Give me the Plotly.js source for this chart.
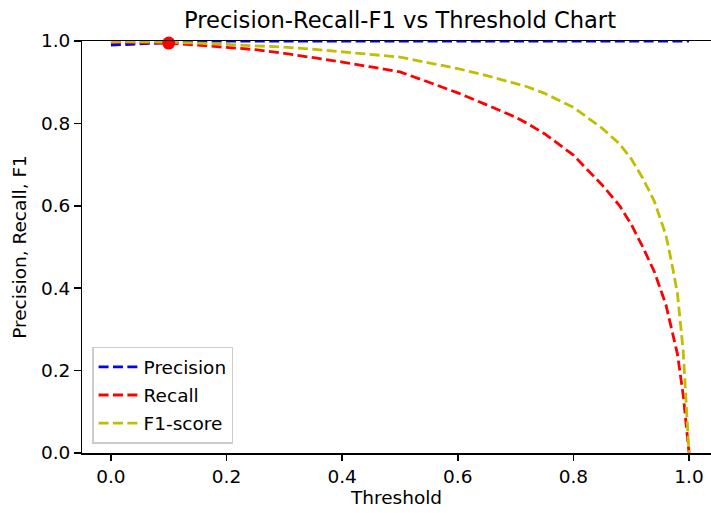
<!DOCTYPE html>
<html>
<head>
<meta charset="utf-8">
<script src="https://cdn.plot.ly/plotly-3.0.1.min.js"></script>
<style>body{margin:0;padding:0;background:#fff;}#chart{width:711px;height:513px;}</style>
</head>
<body>
<div id="chart"></div>
<script>
const thresholds = [0.0, 0.05, 0.1, 0.15, 0.2, 0.25, 0.3, 0.35, 0.4, 0.45, 0.5, 0.55, 0.6, 0.65, 0.7, 0.72, 0.75, 0.8, 0.85, 0.88, 0.9, 0.92, 0.94, 0.96, 0.97, 0.98, 0.99, 1.0];
const precision = [0.99, 0.993, 0.997, 0.999, 1.0, 1.0, 1.0, 1.0, 1.0, 1.0, 1.0, 1.0, 1.0, 1.0, 1.0, 1.0, 1.0, 1.0, 1.0, 1.0, 1.0, 1.0, 1.0, 1.0, 1.0, 1.0, 1.0, 1.0];
const recall = [0.997, 0.996, 0.995, 0.99, 0.985, 0.979, 0.97, 0.96, 0.949, 0.937, 0.925, 0.9, 0.874, 0.845, 0.815, 0.80, 0.775, 0.723, 0.65, 0.6, 0.555, 0.5, 0.44, 0.36, 0.3, 0.24, 0.14, 0.0];
const f1score = [0.9985, 0.998, 0.9975, 0.995, 0.992, 0.989, 0.985, 0.98, 0.974, 0.967, 0.961, 0.947, 0.933, 0.916, 0.898, 0.889, 0.873, 0.839, 0.788, 0.75, 0.714, 0.667, 0.611, 0.529, 0.462, 0.387, 0.246, 0.0];
const bestThreshold = [0.1];
const bestValue = [0.995];

const dash = '10px,4.4px';
const lw = 2.8;
const traces = [
  {x: thresholds, y: precision, name: 'Precision', mode: 'lines', line: {color: '#0000ff', width: lw, dash: dash}, legendgroup: 'a'},
  {x: thresholds, y: recall, name: 'Recall', mode: 'lines', line: {color: '#ff0000', width: lw, dash: dash}, legendgroup: 'b'},
  {x: thresholds, y: f1score, name: 'F1-score', mode: 'lines', line: {color: '#bfbf00', width: lw, dash: dash}, legendgroup: 'c'},
  {x: bestThreshold, y: bestValue, mode: 'markers', marker: {color: '#ff0000', size: 13}, showlegend: false, cliponaxis: false}
];
const font = {family: 'DejaVu Sans, sans-serif', size: 18.5, color: '#000'};
const layout = {
  width: 711, height: 513,
  margin: {l: 82, r: 0, t: 41, b: 60},
  paper_bgcolor: '#fff', plot_bgcolor: '#fff',
  font: font,
  title: {text: 'Precision-Recall-F1 vs Threshold Chart', font: {family: 'DejaVu Sans, sans-serif', size: 22.6, color: '#000'}, x: 0.5056, xref: 'paper', xanchor: 'center', y: 20, yref: 'container', yanchor: 'middle'},
  xaxis: {
    range: [-0.05, 1.038], showgrid: false, zeroline: false,
    showline: true, linecolor: '#000', linewidth: 1.5, mirror: true,
    ticks: 'outside', ticklen: 6.5, tickcolor: '#000', tickwidth: 1.5,
    tickvals: [0, 0.2, 0.4, 0.6, 0.8, 1.0], tickformat: '.1f',
    title: {text: 'Threshold', font: font, standoff: 4}
  },
  yaxis: {
    range: [0, 1], showgrid: false, zeroline: false,
    showline: true, linecolor: '#000', linewidth: 1.5, mirror: false,
    ticks: 'outside', ticklen: 6.5, tickcolor: '#000', tickwidth: 1.5,
    tickvals: [0, 0.2, 0.4, 0.6, 0.8, 1.0], tickformat: '.1f',
    title: {text: 'Precision, Recall, F1', font: font, standoff: 9}
  },
  legend: {
    x: 0.016, y: 0.022, xanchor: 'left', yanchor: 'bottom',
    bgcolor: 'rgba(255,255,255,0.8)', bordercolor: '#cccccc', borderwidth: 1.5,
    font: {family: 'DejaVu Sans, sans-serif', size: 18.5, color: '#000'},
    traceorder: 'grouped', tracegroupgap: 1, itemwidth: 40
  },
  showlegend: true
};
Plotly.newPlot('chart', traces, layout, {staticPlot: true, displayModeBar: false});
</script>
</body>
</html>
